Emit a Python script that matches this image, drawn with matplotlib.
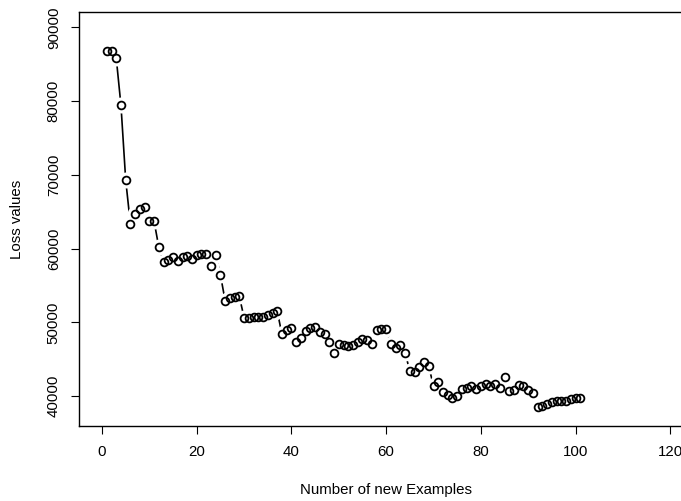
import matplotlib
matplotlib.use("Agg")
import matplotlib.pyplot as plt
import numpy as np

# loss after each new example
n_examples = list(range(1, 102))
loss_values = [
    86790, 86745, 85840, 79420, 69290, 63290, 64680, 65320, 65630, 63690,
    63690, 60170, 58230, 58500, 58900, 58270, 58810, 59040, 58580, 59120,
    59310, 59220, 57590, 59120, 56460, 52940, 53350, 53480, 53520, 50640,
    50540, 50720, 50770, 50770, 50950, 51220, 51530, 48370, 49010, 49230,
    47290, 47870, 48780, 49180, 49320, 48740, 48470, 47290, 45890, 47020,
    46970, 46740, 46880, 47330, 47790, 47560, 47020, 48910, 49090, 49140,
    47020, 46470, 46970, 45840, 43450, 43310, 43990, 44570, 44070, 41360,
    41860, 40550, 40140, 39790, 40000, 40950, 41140, 41360, 41010, 41320,
    41630, 41360, 41590, 41090, 42580, 40680, 40870, 41500, 41320, 40820,
    40370, 38570, 38700, 38970, 39150, 39330, 39330, 39380, 39600, 39690,
    39750,
]
x_ticks = [0, 20, 40, 60, 80, 100, 120]
y_ticks = [40000, 50000, 60000, 70000, 80000, 90000]

plt.rcParams["font.family"] = ["Liberation Sans", "DejaVu Sans"]
plt.rcParams["font.size"] = 10.8

W, H = 681, 501
fig = plt.figure(figsize=(W / 100, H / 100), dpi=100)
left, right, top, bottom = 79.3, 693.0, 12.0, 426.3
ax = fig.add_axes([left / W, 1 - bottom / H, (right - left) / W, (bottom - top) / H])

# R style type="b": line with gaps around the points
ax.plot(n_examples, loss_values, color="black", lw=1.2, zorder=1)
ax.plot(n_examples, loss_values, ls="none", marker="o", ms=11.5, mfc="white",
        mec="white", mew=0, zorder=2)
ax.plot(n_examples, loss_values, ls="none", marker="o", ms=5.6, mfc="none",
        mec="black", mew=1.3, zorder=3)

ax.set_xlim(-4.8, 124.8)
ax.set_ylim(35920, 92080)
ax.set_xticks(x_ticks)
ax.set_yticks(y_ticks)
ax.set_yticklabels([str(v) for v in y_ticks], rotation=90, va="center")
ax.tick_params(direction="out", length=5.8, width=0.8, pad=7.5)

for s in ax.spines.values():
    s.set_linewidth(1.0)

fig.text(386 / W, 1 - 490 / H, "Number of new Examples", ha="center", va="center")
fig.text(17 / W, 1 - 219 / H, "Loss values", ha="center", va="center", rotation=90)

fig.savefig("out.png", dpi=100)
